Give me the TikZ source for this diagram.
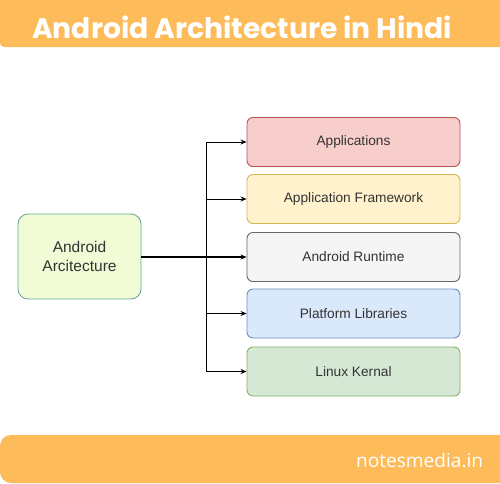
\documentclass[tikz,border=0pt]{standalone}
\usepackage{fontspec}
\setmainfont{Liberation Sans}
\newfontfamily\titlefont{Poppins}
\newfontfamily\sitefont{Open Sans}
\usetikzlibrary{arrows.meta}
\definecolor{banner}{HTML}{FDBB5A}
\definecolor{txt}{HTML}{333333}
\definecolor{srcfill}{HTML}{F1FBD6}
\definecolor{srcdraw}{HTML}{6AA89A}
\definecolor{f1}{HTML}{F8CECC}\definecolor{d1}{HTML}{B85450}
\definecolor{f2}{HTML}{FFF2CC}\definecolor{d2}{HTML}{D6B656}
\definecolor{f3}{HTML}{F5F5F5}\definecolor{d3}{HTML}{666666}
\definecolor{f4}{HTML}{DAE8FC}\definecolor{d4}{HTML}{6C8EBF}
\definecolor{f5}{HTML}{D5E8D4}\definecolor{d5}{HTML}{82B366}
\tikzset{
  x=1pt, y=-1pt,
  layerbox/.style={draw, rounded corners=6pt, line width=0.9pt, minimum width=213pt, minimum height=49pt, inner sep=0pt, text=txt, font=\fontsize{13.7}{16}\selectfont},
  srcbox/.style={draw=srcdraw, fill=srcfill, rounded corners=10pt, line width=0.9pt, minimum width=123pt, minimum height=85pt, align=center, text=txt, font=\fontsize{15.5}{18.5}\selectfont},
  conn/.style={line width=0.9pt, draw=black, -{Stealth[length=6pt,width=5pt]}},
}
\begin{document}
\begin{tikzpicture}
\useasboundingbox (0,0) rectangle (500,483);
% banners
\fill[banner, rounded corners=4pt] (0,-5) rectangle (505,47);
\fill[banner, rounded corners=11pt] (0,435) rectangle (515,483);
\node[text=white, inner sep=0pt, anchor=west] (title) at (32,27.5) {\resizebox{420pt}{!}{\titlefont\bfseries Android Architecture in Hindi}};
\node[text=white, inner sep=0pt, anchor=west] (site) at (356,460) {\resizebox{127pt}{!}{\sitefont notesmedia.in}};
% source node
\node[srcbox] (src) at (79.5,256.5) {Android\\Arcitecture};
% layers
\node[layerbox, fill=f1, draw=d1] (app) at (353.5,142) {Applications};
\node[layerbox, fill=f2, draw=d2] (fw) at (353.5,199) {Application Framework};
\node[layerbox, fill=f3, draw=d3] (rt) at (353.5,257) {Android Runtime};
\node[layerbox, fill=f4, draw=d4] (lib) at (353.5,313.5) {Platform Libraries};
\node[layerbox, fill=f5, draw=d5] (ker) at (353.5,371.5) {Linux Kernal};
% connectors
\coordinate (bus) at (206,0);
\draw[conn, line width=1.4pt] (src.east |- rt.west) -- (rt.west);
\draw[line width=0.9pt] (bus |- app.west) -- (bus |- ker.west);
\foreach \n in {app,fw,lib,ker} \draw[conn] (bus |- \n.west) -- (\n.west);
\end{tikzpicture}
\end{document}
